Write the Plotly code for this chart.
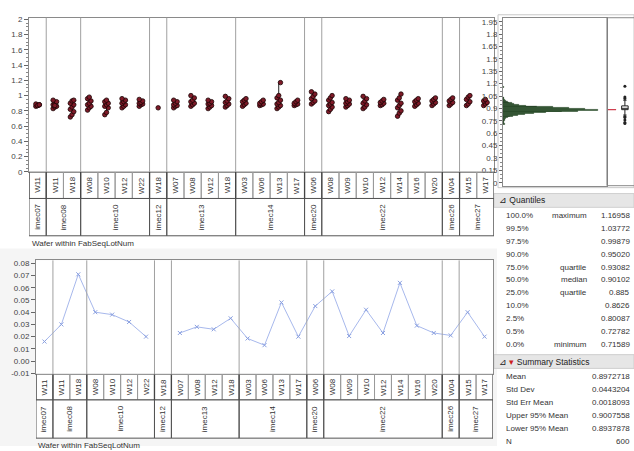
import plotly.graph_objects as go

W, H = 634, 451
def PX(p): return p / W
def PY(p): return 1 - p / H

# ---------------- data ----------------
lots = ["imec07", "imec08", "imec10", "imec12", "imec13", "imec14",
        "imec20", "imec22", "imec26", "imec27"]
lot_wafers = [["W11"], ["W11", "W18"], ["W08", "W10", "W12", "W22"], ["W18"],
              ["W07", "W08", "W12", "W18"], ["W03", "W06", "W13", "W17"], ["W06"],
              ["W08", "W09", "W10", "W12", "W14", "W16", "W20"], ["W04"], ["W15", "W17"]]

water_values = [
    [0.86, 0.87, 0.88, 0.89, 0.87, 0.88],
    [0.83, 0.85, 0.86, 0.88, 0.90, 0.92, 0.94, 0.87],
    [0.72, 0.75, 0.79, 0.82, 0.85, 0.88, 0.90, 0.93, 0.94],
    [0.81, 0.84, 0.86, 0.88, 0.90, 0.93, 0.96, 0.98],
    [0.75, 0.78, 0.84, 0.86, 0.88, 0.90, 0.92, 0.94],
    [0.84, 0.86, 0.88, 0.90, 0.92, 0.94, 0.96],
    [0.86, 0.88, 0.89, 0.90, 0.91, 0.93, 0.95],
    [0.84],
    [0.84, 0.86, 0.87, 0.88, 0.90, 0.92, 0.94],
    [0.86, 0.88, 0.90, 0.92, 0.94, 0.97, 1.00],
    [0.83, 0.85, 0.87, 0.89, 0.90, 0.92, 0.94],
    [0.85, 0.87, 0.89, 0.91, 0.93, 0.96, 0.99],
    [0.86, 0.88, 0.90, 0.92, 0.94, 0.96],
    [0.87, 0.88, 0.89, 0.90, 0.92, 0.94],
    [0.83, 0.85, 0.87, 0.89, 0.91, 0.94, 0.97, 1.00, 1.17],
    [0.87, 0.88, 0.89, 0.90, 0.92, 0.94],
    [0.89, 0.91, 0.93, 0.96, 0.99, 1.02, 1.05],
    [0.79, 0.82, 0.85, 0.87, 0.89, 0.91, 0.94, 0.97, 1.00],
    [0.85, 0.87, 0.89, 0.90, 0.92, 0.94, 0.96],
    [0.83, 0.85, 0.88, 0.90, 0.93, 0.96, 0.99],
    [0.87, 0.88, 0.90, 0.91, 0.93, 0.95],
    [0.73, 0.77, 0.80, 0.84, 0.87, 0.90, 0.94, 0.97, 1.02],
    [0.86, 0.88, 0.90, 0.92, 0.94, 0.96],
    [0.87, 0.89, 0.91, 0.93, 0.95, 0.97],
    [0.87, 0.89, 0.91, 0.93, 0.95, 0.97],
    [0.87, 0.89, 0.92, 0.95, 0.98, 1.00],
    [0.87, 0.89, 0.91, 0.93, 0.95],
]

std_dev = [0.016, 0.030, 0.071, 0.040, 0.038, 0.032, 0.020, None,
           0.023, 0.028, 0.026, 0.035, 0.0185, 0.013, 0.048, 0.020,
           0.045, 0.057, 0.0205, 0.042, 0.023, 0.064, 0.029, 0.023,
           0.021, 0.040, 0.020]

hist_bins = [0.71, 0.72, 0.73, 0.74, 0.75, 0.76, 0.77, 0.78, 0.79, 0.80,
             0.81, 0.82, 0.83, 0.84, 0.85, 0.86, 0.87, 0.88, 0.89, 0.90,
             0.91, 0.92, 0.93, 0.94, 0.95, 0.96, 0.97, 0.98, 0.99, 1.00,
             1.01, 1.02, 1.03, 1.16]
hist_counts = [2, 1, 1, 1, 1, 2, 2, 3, 4, 6,
               9, 13, 19, 27, 38, 52, 66, 83, 72, 58,
               44, 30, 20, 14, 10, 8, 5, 4, 3, 2,
               1, 1, 1, 1]

box_stats = dict(q1=0.885, median=0.90102, q3=0.93082, lower=0.82, upper=0.99879)
box_outliers = [1.16958, 1.03772, 1.02, 0.80087, 0.79, 0.76, 0.72782, 0.71589]

quant_pct = ["100.0%", "99.5%", "97.5%", "90.0%", "75.0%", "50.0%", "25.0%",
             "10.0%", "2.5%", "0.5%", "0.0%"]
quant_lbl = ["maximum", "", "", "", "quartile", "median", "quartile", "", "", "", "minimum"]
quant_val = ["1.16958", "1.03772", "0.99879", "0.95020", "0.93082", "0.90102",
             "0.885", "0.8626", "0.80087", "0.72782", "0.71589"]

sum_lbl = ["Mean", "Std Dev", "Std Err Mean", "Upper 95% Mean", "Lower 95% Mean", "N"]
sum_val = ["0.8972718", "0.0443204", "0.0018093", "0.9007558", "0.8937878", "600"]

# ---------------- derived layout ----------------
wafer_labels = [w for ws in lot_wafers for w in ws]
ncol = len(wafer_labels)
group_bounds = []
k = 0
for ws in lot_wafers:
    group_bounds.append((k, k + len(ws)))
    k += len(ws)

FONT = "Liberation Sans, Arial, sans-serif"
TXT = "#333333"

fig = go.Figure()

px_, py_ = [], []
rx, ry = [], []
for i, vals in enumerate(water_values):
    n = len(vals)
    for j, v in enumerate(vals):
        off = ((j % 3) - 1) * 0.1 if n > 1 else 0
        px_.append(i + off)
        py_.append(v)
    if n > 1:
        rx += [i, i, None]
        ry += [min(vals), max(vals), None]

fig.add_trace(go.Scatter(x=rx, y=ry, mode="lines", line=dict(color="#222222", width=1),
                         xaxis="x", yaxis="y", hoverinfo="skip", showlegend=False))
fig.add_trace(go.Scatter(x=px_, y=py_, mode="markers",
                         marker=dict(size=4.5, color="#7e1a28", line=dict(color="#1a0505", width=0.8)),
                         xaxis="x", yaxis="y", showlegend=False))

fig.add_trace(go.Scatter(x=list(range(ncol)), y=std_dev, mode="lines+markers",
                         connectgaps=False,
                         line=dict(color="#a7b8ec", width=1),
                         marker=dict(symbol="x-thin", size=4, color="#8aa0e0",
                                     line=dict(color="#8aa0e0", width=1)),
                         xaxis="x2", yaxis="y2", showlegend=False))

fig.add_trace(go.Bar(y=hist_bins, x=hist_counts, orientation="h", width=0.0095,
                     marker=dict(color="#4d7a4d", line=dict(color="#1f3b1f", width=0.6)),
                     xaxis="x3", yaxis="y3", showlegend=False))

fig.add_trace(go.Box(x=[0], q1=[box_stats["q1"]], median=[box_stats["median"]],
                     q3=[box_stats["q3"]], lowerfence=[box_stats["lower"]],
                     upperfence=[box_stats["upper"]], width=0.5, boxpoints=False,
                     fillcolor="rgba(0,0,0,0)", line=dict(color="#222222", width=1),
                     xaxis="x4", yaxis="y4", showlegend=False))
fig.add_trace(go.Scatter(x=[0] * len(box_outliers), y=box_outliers, mode="markers",
                         marker=dict(size=3, color="#222222"),
                         xaxis="x4", yaxis="y4", showlegend=False))
fig.add_trace(go.Scatter(x=[-1.0], y=[box_stats["median"] - 0.015], mode="markers",
                         marker=dict(symbol="line-ew", size=6, color="#d04050",
                                     line=dict(color="#d04050", width=1.2)),
                         xaxis="x4", yaxis="y4", showlegend=False))

shapes = []
annotations = []

def note(x, y, text, xanchor="center", xref="paper", size=8, angle=0, color=TXT):
    annotations.append(dict(x=x, y=y, xref=xref, yref="paper", xanchor=xanchor,
                            yanchor="middle", text=text, textangle=angle, showarrow=False,
                            font=dict(size=size, color=color, family=FONT)))

TOP_ROW1 = (172, 199)
TOP_ROW2 = (199, 237)
BOT_ROW1 = (378, 404)
BOT_ROW2 = (404, 443)

shapes.append(dict(type="rect", xref="paper", yref="paper", x0=0, x1=PX(497), y0=0, y1=PY(250),
                   fillcolor="#f5f5f5", line=dict(width=0), layer="below"))
shapes.append(dict(type="rect", xref="paper", yref="paper", x0=PX(36), x1=PX(493),
                   y0=PY(443), y1=PY(262), fillcolor="white", line=dict(width=0), layer="below"))

def label_grid(xref, row1, row2, plot_top, plot_bottom):
    for i, w in enumerate(wafer_labels):
        shapes.append(dict(type="rect", xref=xref, yref="paper", x0=i - 0.5, x1=i + 0.5,
                           y0=PY(row1[1]), y1=PY(row1[0]),
                           line=dict(color="#9a9a9a", width=1)))
        note(i, PY((row1[0] + row1[1]) / 2), w, xref=xref, size=8, angle=-90)
    for (a, b), lot in zip(group_bounds, lots):
        shapes.append(dict(type="rect", xref=xref, yref="paper", x0=a - 0.5, x1=b - 0.5,
                           y0=PY(row2[1]), y1=PY(row2[0]),
                           line=dict(color="#555555", width=1)))
        shapes.append(dict(type="line", xref=xref, yref="paper", x0=a - 0.5, x1=a - 0.5,
                           y0=PY(row1[1]), y1=PY(row1[0]),
                           line=dict(color="#444444", width=1.3)))
        note((a + b - 1) / 2, PY((row2[0] + row2[1]) / 2), lot, xref=xref, size=8, angle=-90)
        if a > 0:
            shapes.append(dict(type="line", xref=xref, yref="paper", x0=a - 0.5, x1=a - 0.5,
                               y0=PY(plot_bottom), y1=PY(plot_top),
                               line=dict(color="#a0a0a0", width=1)))
    shapes.append(dict(type="line", xref=xref, yref="paper", x0=ncol - 0.5, x1=ncol - 0.5,
                       y0=PY(row2[1]), y1=PY(row1[0]), line=dict(color="#555555", width=1)))

label_grid("x", TOP_ROW1, TOP_ROW2, 15, 172)
label_grid("x2", BOT_ROW1, BOT_ROW2, 262, 378)

note(PX(30), PY(245), "Wafer within FabSeqLotNum", xanchor="left")
note(PX(36), PY(450), "Wafer within FabSeqLotNum", xanchor="left")

shapes.append(dict(type="rect", xref="paper", yref="paper", x0=PX(498), x1=1.0,
                   y0=PY(188), y1=PY(12), line=dict(color="#c8c8c8", width=1)))
shapes.append(dict(type="line", xref="paper", yref="paper", x0=PX(607), x1=PX(607),
                   y0=PY(186), y1=PY(15), line=dict(color="#777777", width=1)))
shapes.append(dict(type="line", xref="paper", yref="paper", x0=PX(607), x1=1.0,
                   y0=PY(15), y1=PY(15), line=dict(color="#888888", width=1)))
shapes.append(dict(type="line", xref="paper", yref="paper", x0=PX(607), x1=1.0,
                   y0=PY(186), y1=PY(186), line=dict(color="#888888", width=1)))

for y0, y1 in [(194, 208), (358, 372)]:
    shapes.append(dict(type="rect", xref="paper", yref="paper", x0=PX(494), x1=1.0,
                       y0=PY(y1), y1=PY(y0), fillcolor="#e6e6e6",
                       line=dict(color="#cfcfcf", width=1), layer="below"))
note(PX(497), PY(201), "⊿ Quantiles", xanchor="left", size=8.5, color="#222222")
note(PX(497), PY(365), "⊿ <span style='color:#cc1e1e'>▾</span> Summary Statistics",
     xanchor="left", size=8.5, color="#222222")

q_y0, q_dy = 216, 13.2
for r, (p, l, v) in enumerate(zip(quant_pct, quant_lbl, quant_val)):
    yy = PY(q_y0 + r * q_dy)
    note(PX(504), yy, p, xanchor="left")
    if l:
        note(PX(589), yy, l, xanchor="right")
    note(PX(632), yy, v, xanchor="right")

s_y0, s_dy = 380, 13.2
for r, (l, v) in enumerate(zip(sum_lbl, sum_val)):
    yy = PY(s_y0 + r * s_dy)
    note(PX(504), yy, l, xanchor="left")
    note(PX(632), yy, v, xanchor="right")

tickfont = dict(size=8, color="#444444", family=FONT)
axis_common = dict(showgrid=False, zeroline=False, showline=True, linecolor="#8a8a8a",
                   mirror=True, tickfont=tickfont)

hist_ticks = [0, 0.15, 0.3, 0.45, 0.6, 0.75, 0.9, 1.05, 1.2, 1.35, 1.5, 1.65, 1.8, 1.95]
hist_text = ["0", "0.15", "0.3", "0.45", "0.6", "0.75", "0.9", "1.05", "1.2", "1.35",
             "1.5", "1.65", "1.8", "1.95"]
sd_ticks = [-0.01, 0.0, 0.01, 0.02, 0.03, 0.04, 0.05, 0.06, 0.07, 0.08]

fig.update_layout(
    width=W, height=H, margin=dict(l=0, r=0, t=0, b=0),
    paper_bgcolor="white", plot_bgcolor="white",
    font=dict(family=FONT, size=8, color=TXT),
    shapes=shapes, annotations=annotations, bargap=0,
    xaxis=dict(domain=[PX(29), PX(494)], range=[-0.5, ncol - 0.5], showticklabels=False,
               ticks="", anchor="y", **axis_common),
    yaxis=dict(domain=[PY(172), PY(15)], range=[0, 2.02], anchor="x",
               tickvals=[0, 0.2, 0.4, 0.6, 0.8, 1, 1.2, 1.4, 1.6, 1.8, 2],
               ticktext=["0", "0.2", "0.4", "0.6", "0.8", "1", "1.2", "1.4", "1.6", "1.8", "2"],
               ticks="outside", ticklen=4, tickcolor="#666666",
               minor=dict(ticks="outside", ticklen=2, dtick=0.05, tickcolor="#888888"),
               **axis_common),
    xaxis2=dict(domain=[PX(36), PX(493)], range=[-0.5, ncol - 0.5], showticklabels=False,
                ticks="", anchor="y2", **axis_common),
    yaxis2=dict(domain=[PY(378), PY(262)], range=[-0.0108, 0.0824], anchor="x2",
                tickvals=sd_ticks, ticktext=["%.2f" % t for t in sd_ticks],
                ticks="outside", ticklen=4, tickcolor="#666666", **axis_common),
    xaxis3=dict(domain=[PX(503), PX(607)], range=[0, 91], showticklabels=False, ticks="",
                anchor="y3", **axis_common),
    yaxis3=dict(domain=[PY(186), PY(15)], range=[-0.036, 1.998], anchor="x3",
                tickvals=hist_ticks, ticktext=hist_text,
                ticks="outside", ticklen=3, tickcolor="#666666",
                minor=dict(ticks="outside", ticklen=2, dtick=0.05, tickcolor="#888888"),
                **axis_common),
    xaxis4=dict(domain=[PX(608), 1.0], range=[-1.3, 0.7], visible=False, anchor="y4"),
    yaxis4=dict(domain=[PY(186), PY(15)], range=[-0.036, 1.998], visible=False, anchor="x4"),
)

fig.write_html("out.html", config={"displayModeBar": False},
               post_script="document.body.style.margin='0';document.body.style.overflow='hidden';")
